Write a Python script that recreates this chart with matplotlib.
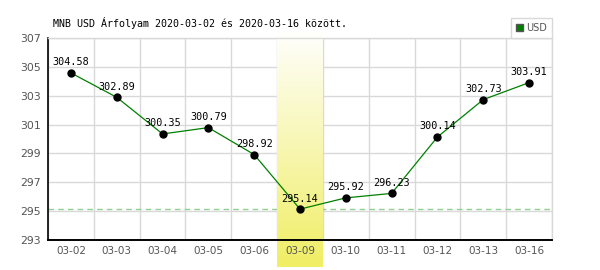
import matplotlib
matplotlib.use("Agg")
import matplotlib.pyplot as plt
import matplotlib.patches as mpatches
import numpy as np

# Data
dates = ["03-02", "03-03", "03-04", "03-05", "03-06", "03-09",
         "03-10", "03-11", "03-12", "03-13", "03-16"]
rates = [304.58, 302.89, 300.35, 300.79, 298.92, 295.14,
         295.92, 296.23, 300.14, 302.73, 303.91]
highlight = "03-09"
yticks = [293, 295, 297, 299, 301, 303, 305, 307]
title = "MNB USD Árfolyam 2020-03-02 és 2020-03-16 között."

fig = plt.figure(figsize=(6, 2.7), dpi=100)
ax = fig.add_axes([48 / 600, 1 - 240 / 270, 504 / 600, 202 / 270])

x = np.arange(len(dates))
ax.set_xlim(-0.5, len(dates) - 0.5)
ax.set_ylim(yticks[0], yticks[-1])

ax.set_xticks(x)
ax.set_xticklabels(dates)
ax.set_yticks(yticks)
ax.tick_params(which="both", length=0)
ax.tick_params(axis="x", colors="#555555", labelsize=7.5, pad=4)
ax.tick_params(axis="y", colors="#555555", labelsize=7.8, pad=5)

# Grid on category boundaries and odd values (drawn by hand so the band covers it)
for b in np.arange(len(dates) + 1) - 0.5:
    ax.axvline(b, color="#d9d9d9", lw=1, zorder=0.5)
for yt in yticks:
    ax.axhline(yt, color="#d9d9d9", lw=1, zorder=0.5)

for s in ["left", "bottom"]:
    ax.spines[s].set_color("black")
    ax.spines[s].set_linewidth(1.2)
for s in ["top", "right"]:
    ax.spines[s].set_color("#d9d9d9")
    ax.spines[s].set_linewidth(1)

# Highlighted day: yellow gradient band reaching past the axes
hi = dates.index(highlight)
ytop = yticks[-1] + (38 - 28) / 202 * 14
ybot = yticks[0] - (267 - 240) / 202 * 14
grad = np.linspace(0, 1, 256).reshape(-1, 1)
top_c = np.array([1.0, 1.0, 1.0])
bot_c = np.array([240, 238, 100]) / 255
img = top_c + (bot_c - top_c) * grad[..., None]
ax.imshow(img, extent=(hi - 0.5, hi + 0.5, ybot, ytop), aspect="auto",
          origin="upper", zorder=1, clip_on=False)

# Bottom axis line over the band
ax.axhline(yticks[0], color="black", lw=1.2, zorder=2.6, clip_on=False)

# Minimum reference line
ax.axhline(min(rates), color="#90d090", lw=1, ls=(0, (4, 3)), zorder=0.8)

# Rate line and points
ax.plot(x, rates, color="#008000", lw=0.9, zorder=3)
ax.plot(x, rates, "o", color="black", ms=5, zorder=4)
for xi, r in zip(x, rates):
    ax.annotate(f"{r:.2f}", (xi, r), xytext=(0, 4), textcoords="offset points",
                ha="center", va="bottom", fontsize=7.3,
                family="DejaVu Sans Mono", color="black", zorder=5)

fig.text(53 / 600, 1 - 23 / 270, title, fontsize=7.2,
         family="DejaVu Sans Mono", va="center", ha="left")

# Legend
leg = ax.legend(handles=[mpatches.Patch(facecolor="#008000", edgecolor="#555555", label="USD")],
                loc="lower right", bbox_to_anchor=(1.0, 1.0), borderaxespad=0,
                fancybox=False, framealpha=1, edgecolor="#d9d9d9", fontsize=7,
                handlelength=0.8, handleheight=0.8, handletextpad=0.3,
                borderpad=0.5)
for t in leg.get_texts():
    t.set_color("#555555")

fig.savefig("out.png", dpi=100)
